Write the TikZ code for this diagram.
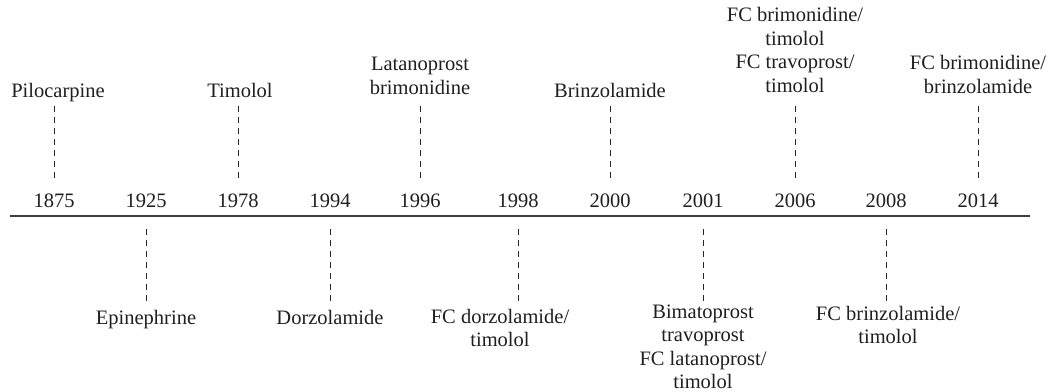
\documentclass[tikz,border=0pt]{standalone}
\usepackage{fontspec}
\setmainfont{Liberation Serif}
\newcommand\labup[1]{\begin{tabular}[b]{@{}c@{}}#1\end{tabular}}
\newcommand\labdn[1]{\begin{tabular}[t]{@{}c@{}}#1\end{tabular}}
\begin{document}
\begin{tikzpicture}[x=1pt,y=-1pt,
  lbl/.style={inner sep=0pt, anchor=base, text=black!88,
              font=\fontsize{20.5}{23.5}\selectfont},
  yr/.style={lbl},
  tick/.style={draw=black!85, line width=0.8pt, dash pattern=on 6pt off 5pt},
  axisline/.style={draw=black!75, line width=1.4pt}]
\useasboundingbox (0,0) rectangle (1054,391);
% axis
\coordinate (L) at (10,216);
\coordinate (R) at (1030,216);
\draw[axisline] (L) -- (R);
% years
\foreach \x/\n in {54/1875,146/1925,238/1978,330/1994,420/1996,518/1998,610/2000,703/2001,795/2006,886/2008,978/2014}{
  \node[yr] (y\n) at (\x,207) {\n};
}
% dashed connectors above
\foreach \x/\n in {54/1875,238/1978,420/1996,610/2000,795/2006,978/2014}{
  \coordinate (ua\n) at (\x,106);
  \coordinate (ub\n) at (\x,181);
  \draw[tick] (ua\n) -- (ub\n);
}
% dashed connectors below
\foreach \x/\n in {146/1925,330/1994,518/1998,703/2001,886/2008}{
  \coordinate (da\n) at (\x,229);
  \coordinate (db\n) at (\x,304);
  \draw[tick] (da\n) -- (db\n);
}
% labels above
\node[lbl] (t1875) at (58,97) {Pilocarpine};
\node[lbl] (t1978) at (240,97) {Timolol};
\node[lbl] (t1996) at (420,94) {\labup{Latanoprost\\brimonidine}};
\node[lbl] (t2000) at (610,97) {Brinzolamide};
\node[lbl] (t2006) at (795,92) {\labup{FC brimonidine/\\timolol\\FC travoprost/\\timolol}};
\node[lbl] (t2014) at (978,93) {\labup{FC brimonidine/\\brinzolamide}};
% labels below
\node[lbl] (b1925) at (146,324) {Epinephrine};
\node[lbl] (b1994) at (330,324) {Dorzolamide};
\node[lbl] (b1998) at (500,323) {\labdn{FC dorzolamide/\\timolol}};
\node[lbl] (b2001) at (703,318) {\labdn{Bimatoprost\\travoprost\\FC latanoprost/\\timolol}};
\node[lbl] (b2008) at (888,320) {\labdn{FC brinzolamide/\\timolol}};
\end{tikzpicture}
\end{document}
